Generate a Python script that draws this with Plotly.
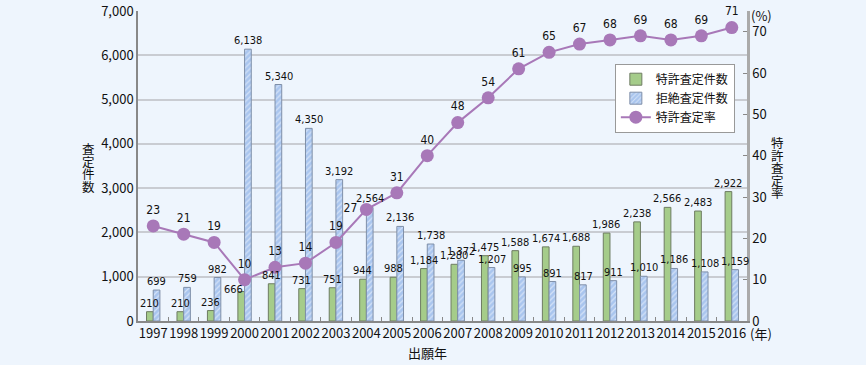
import plotly.graph_objects as go

years = [str(y) for y in range(1997, 2017)]
granted = [210, 210, 236, 666, 841, 731, 751, 944, 988, 1184, 1280, 1475, 1588, 1674, 1688, 1986, 2238, 2566, 2483, 2922]
rejected = [699, 759, 982, 6138, 5340, 4350, 3192, 2564, 2136, 1738, 1372, 1207, 995, 891, 817, 911, 1010, 1186, 1108, 1159]
rate = [23, 21, 19, 10, 13, 14, 19, 27, 31, 40, 48, 54, 61, 65, 67, 68, 69, 68, 69, 71]

name_granted = "特許査定件数"
name_rejected = "拒絶査定件数"
name_rate = "特許査定率"
left_title = "査定件数"
right_title = "特許査定率"

BG = "#EEF5FD"
GREEN = "#A5CC8A"
BLUE = "#A9C5EE"
PURPLE = "#A878B8"
FONT = "Noto Sans CJK JP"
NARROW = "DejaVu Sans Condensed, Liberation Sans Narrow, Roboto"

fig = go.Figure()
fig.add_trace(go.Bar(
    x=years, y=granted, name=name_granted,
    marker=dict(color=GREEN, line=dict(color="#6E7C62", width=1)),
))
fig.add_trace(go.Bar(
    x=years, y=rejected, name=name_rejected,
    marker=dict(color=BLUE, line=dict(color="#7F8FA8", width=1),
                pattern=dict(shape="/", fgcolor="white", size=4, solidity=0.3)),
))
rate_pos = ["top center"] * len(rate)
rate_pos[years.index("2004")] = "middle left"
fig.add_trace(go.Scatter(
    x=years, y=rate, name=name_rate, yaxis="y2",
    mode="lines+markers+text",
    line=dict(color=PURPLE, width=2),
    marker=dict(color=PURPLE, size=13),
    text=[str(v) for v in rate], textposition=rate_pos,
    textfont=dict(family=NARROW, size=12, color="#111"),
    cliponaxis=False,
))

ann = []
shift_g = {"2000": (-8, -6)}
for i, yr in enumerate(years):
    dx, dy = shift_g.get(yr, (0, 0))
    ann.append(dict(x=i, y=granted[i], xref="x", yref="y", text=f"{granted[i]:,}",
                    showarrow=False, xanchor="center", yanchor="bottom",
                    xshift=-3.5 + dx, yshift=dy,
                    font=dict(family=NARROW, size=11, color="#111")))
    ann.append(dict(x=i, y=rejected[i], xref="x", yref="y", text=f"{rejected[i]:,}",
                    showarrow=False, xanchor="center", yanchor="bottom", xshift=3.5,
                    font=dict(family=NARROW, size=11, color="#111")))

side = dict(showarrow=False, xref="paper", yref="paper", xanchor="center", yanchor="middle",
            font=dict(family=FONT, size=13, color="#111"))
title_font = dict(family=FONT, size=12.5, color="#111")
pitch = 12.5
for k, ch in enumerate(left_title):
    ann.append(dict(x=-0.082, y=0.495, text=ch, showarrow=False, xref="paper", yref="paper",
                    xanchor="center", yanchor="middle", font=title_font,
                    yshift=(len(left_title) - 1) / 2 * pitch - k * pitch))
for k, ch in enumerate(right_title):
    ann.append(dict(x=1.05, y=0.495, text=ch, showarrow=False, xref="paper", yref="paper",
                    xanchor="center", yanchor="middle", font=title_font,
                    yshift=(len(right_title) - 1) / 2 * pitch - k * pitch))
ann += [
    dict(x=1.023, y=0.985, text="(%)", **side),
    dict(x=1.023, y=-0.04, text="(年)", **side),
    dict(x=0.475, y=-0.1, text="出願年", **side),
]

fig.update_layout(
    width=866, height=365,
    margin=dict(l=138, r=119, t=11, b=44, autoexpand=False),
    paper_bgcolor=BG, plot_bgcolor=BG,
    barmode="group", bargap=0.56, bargroupgap=0,
    font=dict(family=FONT, size=13, color="#111"),
    showlegend=True,
    legend=dict(x=0.783, y=0.83, xanchor="left", yanchor="top",
                bgcolor="white", bordercolor="#999", borderwidth=1,
                font=dict(family=FONT, size=12), tracegroupgap=0,
                itemwidth=30),
    xaxis=dict(type="category", range=[-0.5, len(years) - 0.5], showline=True,
               linecolor="#888", linewidth=1.5, automargin=False,
               ticks="inside", tickson="boundaries", ticklen=4, tickcolor="#888",
               showgrid=False, tickfont=dict(size=13), tickangle=0),
    yaxis=dict(range=[0, 7000], dtick=1000, tickformat=",", showline=True,
               linecolor="#888", linewidth=1.5, gridcolor="#C9CCD2", gridwidth=1.5,
               ticks="", zeroline=False, tickfont=dict(size=13), automargin=False),
    yaxis2=dict(range=[0, 75], tickvals=[0, 10, 20, 30, 40, 50, 60, 70], overlaying="y",
                side="right", showline=True, linecolor="#AAA", linewidth=2.5,
                ticks="inside", ticklen=4, tickcolor="#888", showgrid=False,
                zeroline=False, tickfont=dict(size=13), automargin=False),
    annotations=ann,
)

fig.write_html("out.html", config={"displayModeBar": False},
               post_script="document.body.style.margin='0';")
